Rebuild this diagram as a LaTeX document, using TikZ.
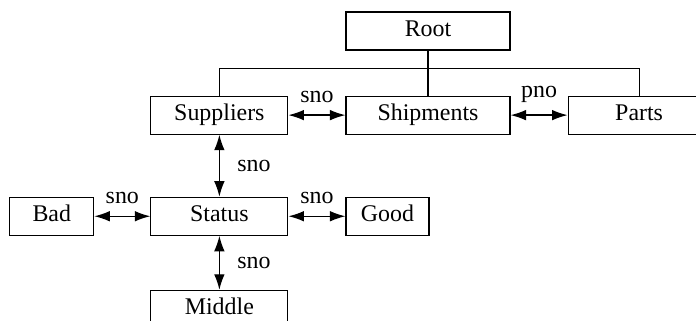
\documentclass[tikz,border=0pt]{standalone}
\usepackage{fontspec}
\setmainfont{Liberation Serif}
\usepackage{tikz}
\usetikzlibrary{arrows.meta,positioning}
\tikzstyle{block} = [rectangle, draw, line width=0.8pt, inner sep=0pt,
    minimum height=0.95cm, text height=11.2pt, text depth=3.7pt, text centered]
\tikzstyle{line} = [draw, line width=0.9pt,
    {Latex[length=11pt,width=7.5pt]}-{Latex[length=11pt,width=7.5pt]}]
\tikzstyle{tree} = [draw, line width=0.8pt]
\tikzstyle{above tag} = [above, yshift=5pt]
\tikzstyle{right tag} = [right, xshift=9pt]

\begin{document}
\begin{tikzpicture}[node distance = 1.425cm, font=\fontsize{17}{20}\selectfont]
        \useasboundingbox (0,0) rectangle (17.4,-8.025);
        % Place nodes
        \node [block, minimum width=4.1cm] (root) at (10.7,-0.775) {Root};
        \node [block, minimum width=4.1cm, below=1.125cm of root] (shipments) {Shipments};
        \node [block, minimum width=3.425cm, left= of shipments] (suppliers) {Suppliers};
        \node [block, minimum width=3.55cm, right= of shipments] (parts) {Parts};
        \node [block, minimum width=3.425cm, below=1.55cm of suppliers] (status) {Status};
        \node [block, minimum width=2.1cm, left=1.4cm of status] (bad) {Bad};
        \node [block, minimum width=2.075cm, right= of status] (good) {Good};
        \node [block, minimum width=3.425cm, below=1.35cm of status] (middle) {Middle};
        % Draw edges
        \path [tree] (root) -- (shipments);
        \path [tree] (suppliers.north) |- ([yshift=-0.45cm]root.south) -| (parts.north);
        \path [line] (suppliers) -- node [above tag] {sno} (shipments);
        \path [line] (shipments) -- node [above tag] {pno} (parts);
        \path [line] (suppliers) -- node [right tag] {sno} (status);
        \path [line] (bad) -- node [above tag] {sno} (status);
        \path [line] (status) -- node [above tag] {sno} (good);
        \path [line] (status) -- node [right tag] {sno} (middle);
    \end{tikzpicture}
\end{document}
